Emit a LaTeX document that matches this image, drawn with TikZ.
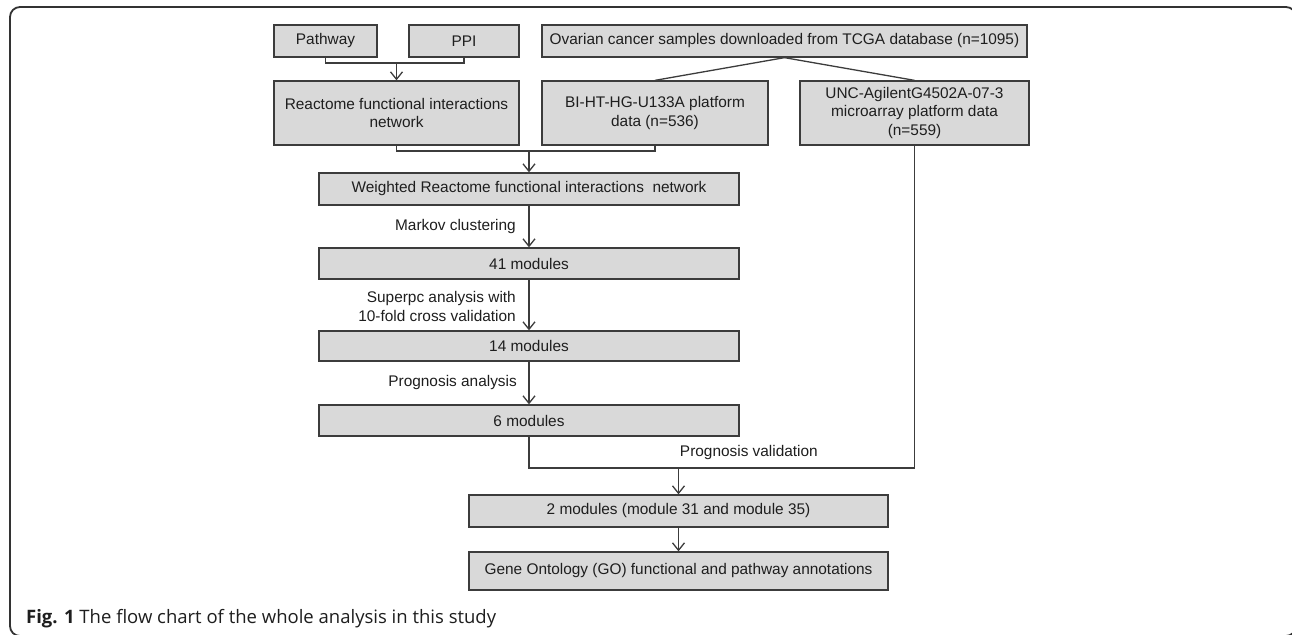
\documentclass[tikz,border=0pt]{standalone}
\usepackage{fontspec}
\setmainfont{Liberation Sans}
\newfontfamily\capfont{Open Sans}
\usetikzlibrary{arrows.meta,calc}
\definecolor{boxfill}{HTML}{D9D9D9}
\definecolor{boxline}{HTML}{3C3C3C}
\definecolor{txt}{HTML}{1E1E1E}
\begin{document}
\begin{tikzpicture}[x=1pt,y=-1pt,
  every node/.style={text=txt,font=\fontsize{15.4}{18.5}\selectfont},
  flowbox/.style={draw=boxline,fill=boxfill,line width=1.3pt,inner sep=0pt,align=center,anchor=center},
  conn/.style={draw=boxline,line width=1.3pt},
  arr/.style={conn,-{Straight Barb[length=7.5pt,width=12pt,line width=1.3pt]}},
  lbl/.style={inner sep=0pt,anchor=east,align=right}]
\useasboundingbox (0,0) rectangle (1292,634);
\fill[white] (0,0) rectangle (1292,634);
% frame
\begin{scope}
\clip (0,0) rectangle (1292,634);
\draw[line width=1.8pt,draw=black!80,rounded corners=10pt] (10,7) rectangle (1296,636);
\end{scope}
% boxes
\node[flowbox,minimum width=103,minimum height=32] (path) at (325.5,41) {Pathway};
\node[flowbox,minimum width=110,minimum height=32] (ppi) at (464,41) {PPI};
\node[flowbox,minimum width=485,minimum height=32] (ovar) at (784.5,41) {Ovarian cancer samples downloaded from TCGA database (n=1095)};
\node[flowbox,minimum width=245,minimum height=64] (react) at (396.5,113) {Reactome functional interactions\\network};
\node[flowbox,minimum width=226,minimum height=64] (bi) at (655,113) {BI-HT-HG-U133A platform\\data (n=536)};
\node[flowbox,minimum width=229,minimum height=64] (unc) at (914.5,113) {UNC-AgilentG4502A-07-3\\microarray platform data\\(n=559)};
\node[flowbox,minimum width=420,minimum height=32] (wrf) at (529,189) {Weighted Reactome functional interactions\ \ network};
\node[flowbox,minimum width=420,minimum height=31] (m41) at (529,263.5) {41 modules};
\node[flowbox,minimum width=420,minimum height=30] (m14) at (529,346) {14 modules};
\node[flowbox,minimum width=420,minimum height=31] (m6) at (529,420.5) {6 modules};
\node[flowbox,minimum width=419,minimum height=32] (m2) at (678.5,511) {2 modules (module 31 and module 35)};
\node[flowbox,minimum width=419,minimum height=38] (go) at (678.5,571) {Gene Ontology (GO) functional and pathway annotations};
% junction points
\coordinate (j1) at (396.5,63);
\coordinate (j2) at (529,151);
\coordinate (j3) at (678.5,468);
% connectors
\draw[conn] (path.south) |- (j1) -| (ppi.south);
\draw[arr] (j1) -- (react.north);
\draw[conn] (react.south) |- (j2) -| (bi.south);
\draw[arr] (j2) -- (wrf.north);
\draw[conn] (ovar.south) -- (bi.north);
\draw[conn] (ovar.south) -- (unc.north);
\draw[arr] (wrf.south) -- (m41.north);
\draw[arr] (m41.south) -- (m14.north);
\draw[arr] (m14.south) -- (m6.north);
\draw[conn] (m6.south) |- (j3) -| (unc.south);
\draw[arr] (j3) -- (m2.north);
\draw[arr] (m2.south) -- (go.north);
% labels
\node[lbl] (lmarkov) at (516,227) {Markov clustering};
\node[lbl] (lsuper) at (516,306.5) {Superpc analysis with\\10-fold cross validation};
\node[lbl] (lprog) at (517,383) {Prognosis analysis};
\node[lbl] (lval) at (818,453) {Prognosis validation};
% caption
\node[inner sep=0pt,anchor=base west,font=\capfont\fontsize{18.5}{22}\selectfont] (cap) at (26,623) {\textbf{Fig. 1} The flow chart of the whole analysis in this study};
\end{tikzpicture}
\end{document}
